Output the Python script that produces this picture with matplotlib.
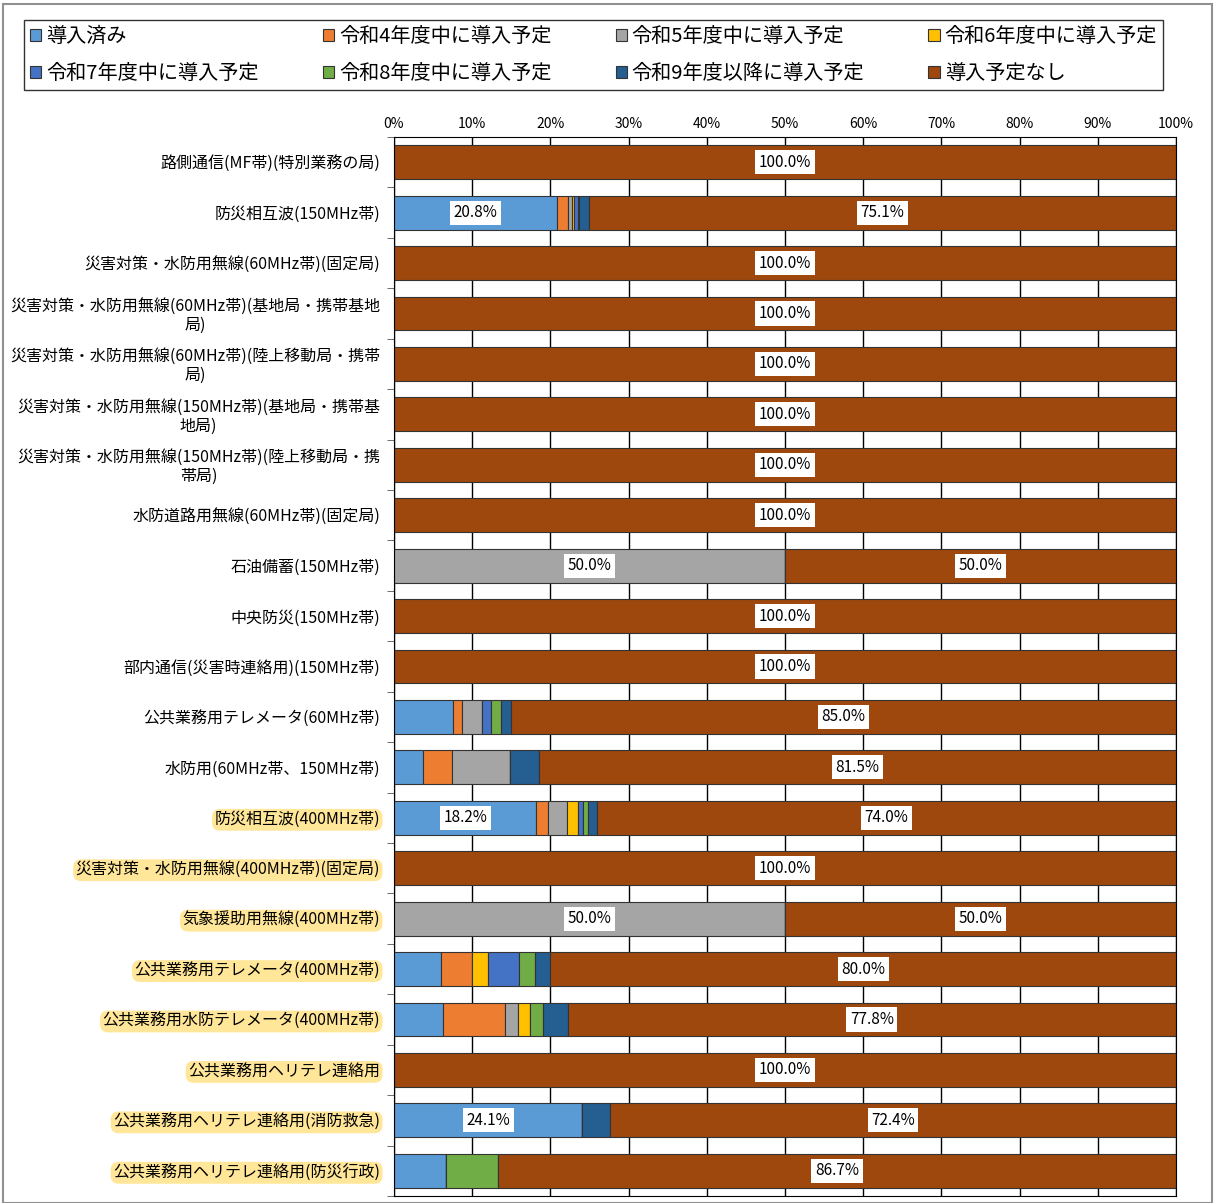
import numpy as np
import matplotlib.pyplot as plt
from matplotlib.patches import Rectangle

plt.rcParams['font.family'] = ['Noto Sans CJK JP', 'DejaVu Sans']

# categories, top to bottom
categories = [
    '路側通信(MF帯)(特別業務の局)',
    '防災相互波(150MHz帯)',
    '災害対策・水防用無線(60MHz帯)(固定局)',
    '災害対策・水防用無線(60MHz帯)(基地局・携帯基地\n局)',
    '災害対策・水防用無線(60MHz帯)(陸上移動局・携帯\n局)',
    '災害対策・水防用無線(150MHz帯)(基地局・携帯基\n地局)',
    '災害対策・水防用無線(150MHz帯)(陸上移動局・携\n帯局)',
    '水防道路用無線(60MHz帯)(固定局)',
    '石油備蓄(150MHz帯)',
    '中央防災(150MHz帯)',
    '部内通信(災害時連絡用)(150MHz帯)',
    '公共業務用テレメータ(60MHz帯)',
    '水防用(60MHz帯、150MHz帯)',
    '防災相互波(400MHz帯)',
    '災害対策・水防用無線(400MHz帯)(固定局)',
    '気象援助用無線(400MHz帯)',
    '公共業務用テレメータ(400MHz帯)',
    '公共業務用水防テレメータ(400MHz帯)',
    '公共業務用ヘリテレ連絡用',
    '公共業務用ヘリテレ連絡用(消防救急)',
    '公共業務用ヘリテレ連絡用(防災行政)',
]
highlighted = categories[13:]

series_names = ['導入済み', '令和4年度中に導入予定', '令和5年度中に導入予定', '令和6年度中に導入予定',
                '令和7年度中に導入予定', '令和8年度中に導入予定', '令和9年度以降に導入予定', '導入予定なし']
colors = ['#5B9BD5', '#ED7D31', '#A5A5A5', '#FFC000', '#4472C4', '#70AD47', '#255E91', '#9E480E']

done = [0, 20.8, 0, 0, 0, 0, 0, 0, 0, 0, 0, 7.5, 3.7, 18.2, 0, 0, 6.0, 6.3, 0, 24.1, 6.7]
r4   = [0, 1.4, 0, 0, 0, 0, 0, 0, 0, 0, 0, 1.2, 3.7, 1.5, 0, 0, 4.0, 7.9, 0, 0, 0]
r5   = [0, 0.6, 0, 0, 0, 0, 0, 0, 50.0, 0, 0, 2.5, 7.4, 2.4, 0, 50.0, 0, 1.6, 0, 0, 0]
r6   = [0, 0.2, 0, 0, 0, 0, 0, 0, 0, 0, 0, 0, 0, 1.4, 0, 0, 2.0, 1.6, 0, 0, 0]
r7   = [0, 0.5, 0, 0, 0, 0, 0, 0, 0, 0, 0, 1.2, 0, 0.7, 0, 0, 4.0, 0, 0, 0, 0]
r8   = [0, 0.2, 0, 0, 0, 0, 0, 0, 0, 0, 0, 1.3, 0, 0.6, 0, 0, 2.0, 1.6, 0, 0, 6.6]
r9   = [0, 1.2, 0, 0, 0, 0, 0, 0, 0, 0, 0, 1.3, 3.7, 1.2, 0, 0, 2.0, 3.2, 0, 3.5, 0]
none = [100.0, 75.1, 100.0, 100.0, 100.0, 100.0, 100.0, 100.0, 50.0, 100.0, 100.0, 85.0, 81.5, 74.0,
        100.0, 50.0, 80.0, 77.8, 100.0, 72.4, 86.7]
series = [done, r4, r5, r6, r7, r8, r9, none]

fig = plt.figure(figsize=(12.16, 12.03), dpi=100)
ax = fig.add_axes([394 / 1216, 1 - 1196 / 1203, 782 / 1216, (1196 - 137) / 1203])

y = np.arange(len(categories))
left = np.zeros(len(categories))
handles = []
for name, vals, c in zip(series_names, series, colors):
    vals = np.array(vals)
    b = ax.barh(y, vals, left=left, height=0.67, color=c, edgecolor='#333333', linewidth=0.8, label=name)
    handles.append(b)
    for i, v in enumerate(vals):
        if v >= 10:
            ax.text(left[i] + v / 2, i, f'{v:.1f}%', ha='center', va='center', fontsize=11,
                    bbox=dict(facecolor='white', edgecolor='none', pad=2.5))
    left += vals

ax.set_xlim(0, 100)
ax.set_ylim(len(categories) - 0.5, -0.5)
ax.xaxis.tick_top()
ax.set_xticks(range(0, 101, 10), [f'{v}%' for v in range(0, 101, 10)], fontsize=10)
ax.tick_params(axis='x', length=0, pad=4)
ax.grid(axis='x', color='black', linewidth=1)
ax.set_axisbelow(True)

ax.set_yticks(y, categories, fontsize=11.5, linespacing=1.1, ma='center')
ax.set_yticks(np.arange(-0.5, len(categories), 1), minor=True)
ax.tick_params(axis='y', which='major', length=0, pad=10)
ax.tick_params(axis='y', which='minor', length=5, color='#555555')
for lbl in ax.get_yticklabels():
    if lbl.get_text() in highlighted:
        lbl.set_bbox(dict(boxstyle='round,pad=0.15,rounding_size=0.5', facecolor='#FFE699', edgecolor='none'))
for s in ax.spines.values():
    s.set_color('black')

order = [0, 4, 1, 5, 2, 6, 3, 7]
leg = fig.legend([handles[k] for k in order], [series_names[k] for k in order], ncol=4,
                 loc='lower left', mode='expand',
                 bbox_to_anchor=(24 / 1216, 1 - 90 / 1203, 1139 / 1216, 70 / 1203),
                 fontsize=14.5, frameon=True, fancybox=False, edgecolor='black',
                 handlelength=0.55, handleheight=0.55, handletextpad=0.25,
                 borderaxespad=0, borderpad=0.3, labelspacing=0.8, columnspacing=1.0)
leg.get_frame().set_linewidth(1.0)

fig.patches.append(Rectangle((3 / 1216, 0), 1209 / 1216, 1 - 4 / 1203, transform=fig.transFigure,
                             fill=False, edgecolor='#909090', linewidth=1.5))

fig.savefig('out.png', dpi=100)
